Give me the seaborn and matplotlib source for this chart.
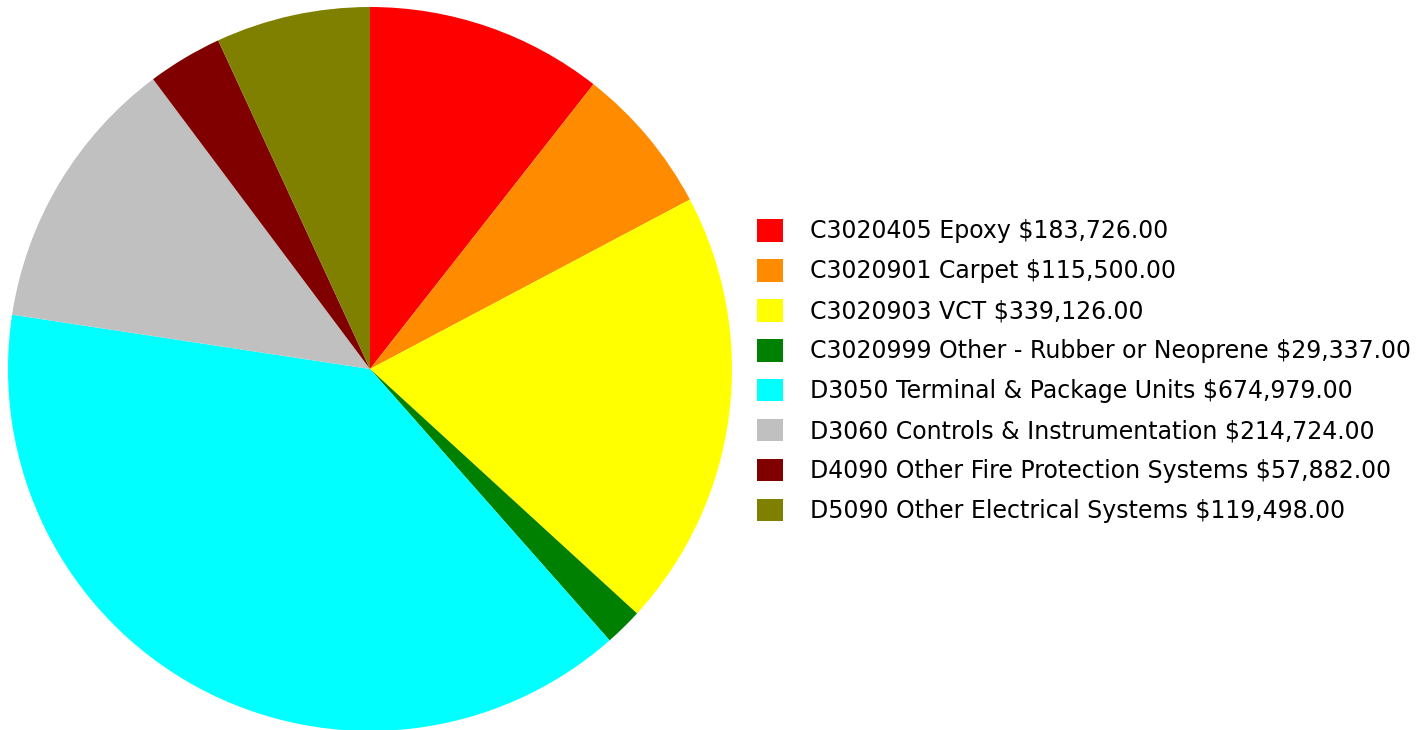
"""Pie chart of cost breakdown by system."""
import matplotlib
matplotlib.use('Agg')
import matplotlib.pyplot as plt
import seaborn as sns

labels = [
    'C3020405 Epoxy',
    'C3020901 Carpet',
    'C3020903 VCT',
    'C3020999 Other - Rubber or Neoprene',
    'D3050 Terminal & Package Units',
    'D3060 Controls & Instrumentation',
    'D4090 Other Fire Protection Systems',
    'D5090 Other Electrical Systems',
]
costs = [183726.00, 115500.00, 339126.00, 29337.00, 674979.00, 214724.00, 57882.00, 119498.00]
colors = ['#FF0000', '#FF8C00', '#FFFF00', '#008000', '#00FFFF', '#C0C0C0', '#800000', '#808000']

sns.set_style("white")
plt.rcParams['font.family'] = ['DejaVu Sans']

fig = plt.figure(figsize=(14.27, 7.30), dpi=100)
ax = fig.add_axes([8 / 1427, -1 / 730, 724 / 1427, 724 / 730])

wedges, _ = ax.pie(costs, colors=colors, startangle=90, counterclock=False,
                   wedgeprops={'linewidth': 0})
ax.set_xlim(-1, 1)
ax.set_ylim(-1, 1)
ax.set_aspect('equal')

legend_labels = [f'{l} ${v:,.2f}' for l, v in zip(labels, costs)]
fig.legend(wedges, legend_labels, loc='upper left',
           bbox_to_anchor=(757 / 1427, 1 - 219 / 730),
           frameon=False, fontsize=17, labelcolor='black',
           handlelength=1.1, handleheight=1.1, handletextpad=1.15,
           labelspacing=0.66, borderaxespad=0, borderpad=0)

fig.savefig('out.png', dpi=100)
